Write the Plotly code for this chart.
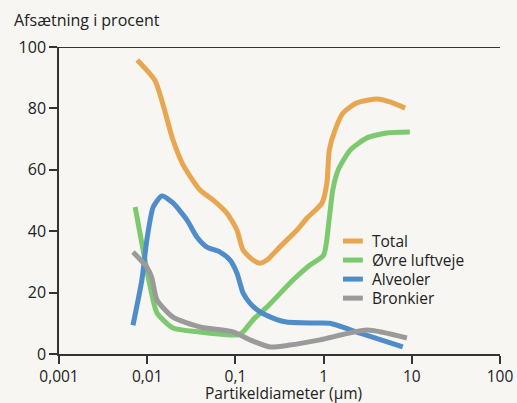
import plotly.graph_objects as go

# Data
total_x = [0.0077, 0.0123, 0.0196, 0.0255, 0.0397, 0.0557, 0.080, 0.104, 0.122, 0.158, 0.19, 0.228,
           0.32, 0.5, 0.65, 0.96, 1.09, 1.16, 1.35, 1.66, 2.38, 4.1, 5.66, 8.4]
total_y = [95.8, 89.0, 69.7, 61.6, 53.4, 50.2, 45.9, 40.4, 33.9, 30.6, 29.6, 30.6,
           34.9, 40.4, 44.3, 49.2, 55.7, 66.4, 73.0, 78.5, 81.8, 83.1, 82.1, 80.1]

upper_x = [0.0073, 0.0108, 0.0129, 0.0196, 0.0397, 0.094, 0.104, 0.122, 0.158, 0.228, 0.45, 0.70,
           1.0, 1.16, 1.27, 1.46, 2.0, 3.1, 5.2, 9.5]
upper_y = [47.9, 22.0, 13.4, 8.5, 7.2, 6.2, 6.2, 7.2, 11.1, 15.3, 24.1, 29.0,
           32.2, 44.3, 53.4, 59.9, 66.4, 70.4, 72.0, 72.3]

alv_x = [0.0069, 0.0087, 0.0099, 0.0117, 0.0147, 0.0196, 0.0283, 0.0366, 0.047, 0.0669, 0.087,
         0.104, 0.113, 0.122, 0.146, 0.19, 0.267, 0.38, 0.84, 1.18, 2.59, 7.9]
alv_y = [9.4, 24.1, 37.1, 47.9, 51.5, 49.2, 43.6, 38.1, 34.9, 33.2, 30.6,
         26.4, 23.0, 19.9, 16.6, 13.7, 11.7, 10.4, 10.1, 10.0, 6.8, 2.3]

bro_x = [0.0069, 0.0099, 0.0113, 0.0129, 0.0196, 0.0397, 0.094, 0.146, 0.247, 0.41, 0.91, 3.1, 8.8]
bro_y = [33.2, 28.3, 24.8, 17.6, 12.0, 8.8, 7.2, 4.6, 2.3, 2.9, 4.6, 7.8, 5.2]

series_names = ["Total", "Øvre luftveje", "Alveoler", "Bronkier"]
series_colors = ["#e9a651", "#7cc96f", "#4f8cca", "#9a9a9a"]

x_tickvals = [0.001, 0.01, 0.1, 1, 10, 100]
x_ticktext = ["0,001", "0,01", "0,1", "1", "10", "100"]
y_tickvals = [0, 20, 40, 60, 80, 100]

FONT = "Open Sans, Noto Sans, sans-serif"
TXT = "#222222"
BG = "#f7f6f2"
AX = "#333333"
FS = 15.5

fig = go.Figure()
for xs, ys, name, col in zip([total_x, upper_x, alv_x, bro_x],
                             [total_y, upper_y, alv_y, bro_y],
                             series_names, series_colors):
    fig.add_trace(go.Scatter(x=xs, y=ys, name=name, mode="lines", showlegend=False,
                             line=dict(color=col, width=5, shape="spline", smoothing=0.6)))

# Manual legend (compact row spacing as in the reference)
shapes = [dict(type="line", xref="paper", yref="y", x0=0, x1=1, y0=100, y1=100,
               line=dict(color=AX, width=2))]
annotations = [
    dict(text="Afsætning i procent", xref="paper", yref="paper",
         x=-0.107, y=1.0, xanchor="left", yanchor="bottom", yshift=14,
         showarrow=False, font=dict(size=16, color=TXT)),
    dict(text="Partikeldiameter (µm)", xref="paper", yref="paper",
         x=0.508, y=0, xanchor="center", yanchor="middle", yshift=-39,
         showarrow=False, font=dict(size=FS, color=TXT)),
]
leg_y0 = 0.368
leg_dy = 0.062
for i, (name, col) in enumerate(zip(series_names, series_colors)):
    yy = leg_y0 - i * leg_dy
    shapes.append(dict(type="line", xref="paper", yref="paper", x0=0.644, x1=0.689,
                       y0=yy, y1=yy, line=dict(color=col, width=5)))
    annotations.append(dict(text=name, xref="paper", yref="paper", x=0.705, y=yy,
                            xanchor="left", yanchor="middle", showarrow=False,
                            font=dict(size=FS, color=TXT)))

fig.update_layout(
    width=517, height=403,
    margin=dict(l=59, r=17, t=47, b=49),
    paper_bgcolor=BG, plot_bgcolor=BG,
    font=dict(family=FONT, size=FS, color=TXT),
    showlegend=False,
    xaxis=dict(type="log", range=[-3, 2], tickvals=x_tickvals, ticktext=x_ticktext,
               showgrid=False, zeroline=False, showline=True, linecolor=AX, linewidth=1.5,
               ticks="outside", ticklen=8, tickcolor=AX, tickwidth=1.5, automargin=False,
               tickfont=dict(size=FS)),
    yaxis=dict(range=[0, 100], tickvals=y_tickvals, showgrid=False, zeroline=False,
               showline=True, linecolor=AX, linewidth=1.5, automargin=False,
               ticks="outside", ticklen=8, tickcolor=AX, tickwidth=1.5,
               tickfont=dict(size=16)),
    shapes=shapes,
    annotations=annotations,
)

fig.write_html("out.html")
